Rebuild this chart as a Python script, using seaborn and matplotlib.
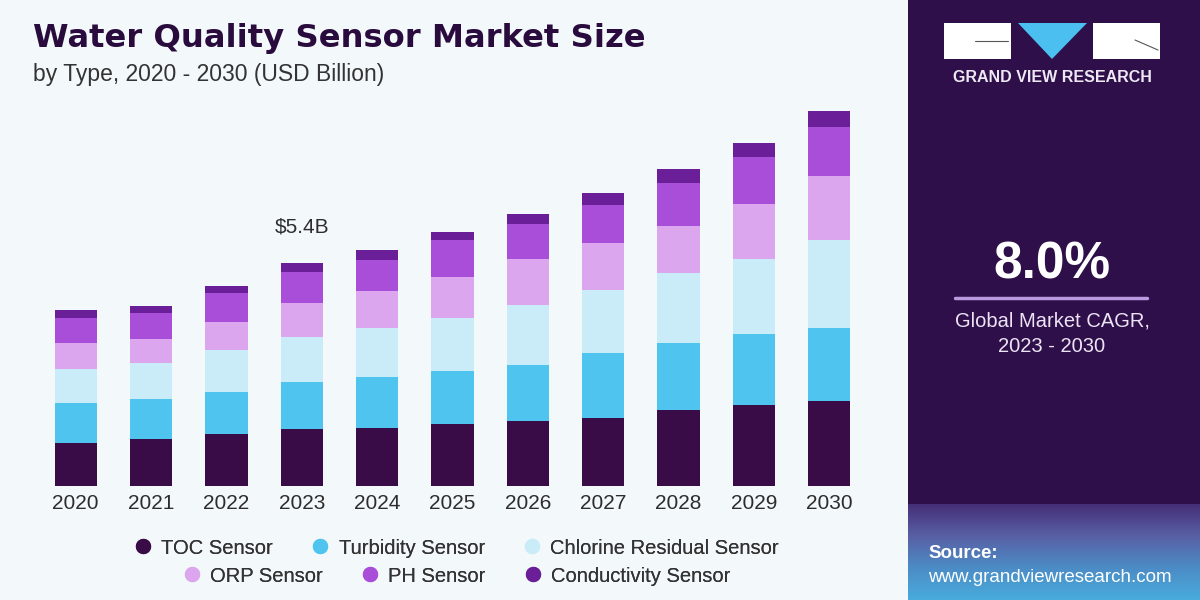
import numpy as np
import pandas as pd
import matplotlib
matplotlib.use("Agg")
import matplotlib.pyplot as plt
import seaborn as sns
from matplotlib.patches import Rectangle, Polygon
from matplotlib.lines import Line2D
from matplotlib.colors import LinearSegmentedColormap

# ---------------- data ----------------
years = [str(y) for y in range(2020, 2031)]
toc = [1.05, 1.14, 1.27, 1.39, 1.41, 1.51, 1.58, 1.65, 1.85, 1.95, 2.07]
turbidity = [0.95, 0.97, 1.00, 1.12, 1.22, 1.27, 1.34, 1.56, 1.61, 1.73, 1.75]
chlorine = [0.83, 0.88, 1.02, 1.09, 1.19, 1.29, 1.46, 1.53, 1.70, 1.82, 2.14]
orp = [0.63, 0.58, 0.68, 0.83, 0.90, 1.00, 1.12, 1.14, 1.14, 1.34, 1.56]
ph = [0.61, 0.61, 0.71, 0.75, 0.75, 0.90, 0.85, 0.92, 1.05, 1.12, 1.17]
conductivity = [0.19, 0.19, 0.17, 0.22, 0.24, 0.19, 0.24, 0.29, 0.34, 0.36, 0.39]
series_names = ["TOC Sensor", "Turbidity Sensor", "Chlorine Residual Sensor",
                "ORP Sensor", "PH Sensor", "Conductivity Sensor"]
colors = ["#3a0c47", "#4fc4ee", "#c9ecf8", "#dba6ee", "#a94ed9", "#6a1e98"]
annot_year = "2023"
annot_text = "$5.4B"
title = "Water Quality Sensor Market Size"
subtitle = "by Type, 2020 - 2030 (USD Billion)"
cagr_value = "8.0%"
cagr_label = "Global Market CAGR,"
cagr_period = "2023 - 2030"

# ---------------- style ----------------
sns.set_theme(style="white")
plt.rcParams['font.family'] = ['Liberation Sans', 'DejaVu Sans']

BG = "#f3f8fa"
PANEL = "#2e0f49"

fig = plt.figure(figsize=(12, 6), dpi=100, facecolor=BG)

# ---------------- chart ----------------
ax = fig.add_axes([38/1200, 1-486/600, 829/1200, 386/600])
ax.set_facecolor(BG)

df = pd.DataFrame({"year": years, "TOC Sensor": toc, "Turbidity Sensor": turbidity,
                   "Chlorine Residual Sensor": chlorine, "ORP Sensor": orp,
                   "PH Sensor": ph, "Conductivity Sensor": conductivity})
cum = df[series_names].cumsum(axis=1)

for i in reversed(range(len(series_names))):
    sns.barplot(x=df["year"], y=cum[series_names[i]], order=years, color=colors[i],
                width=0.56, saturation=1, linewidth=0, ax=ax)

ax.set_xlim(-0.5, 10.5)
ax.set_ylim(0, 9.35)
for s in ax.spines.values():
    s.set_visible(False)
ax.set_yticks([])
ax.set_xlabel("")
ax.set_ylabel("")
ax.tick_params(axis="x", length=0, pad=6, labelsize=15, labelcolor="#2d2d2d")

idx = years.index(annot_year)
total = cum[series_names[-1]].iloc[idx]
ax.annotate(annot_text, xy=(idx, total), xytext=(0, 19), textcoords="offset points",
            ha="center", va="bottom", fontsize=15, color="#2d2d2d")

# title
fig.text(33/1200, 1-39/600, title, fontsize=23.2, fontweight="bold", color="#2a0b3e",
         va="center", ha="left", family=["DejaVu Sans"])
fig.text(33/1200, 1-75/600, subtitle, fontsize=16.5, color="#333333", va="center", ha="left")

# legend (two centered rows)
handles = [Line2D([0], [0], marker="o", linestyle="none", markersize=10,
                  markerfacecolor=c, markeredgecolor=c) for c in colors]
for row, yy in enumerate([548, 576]):
    hs = handles[row*3:row*3+3]
    ls = series_names[row*3:row*3+3]
    lg = fig.legend(hs, ls, loc="center", bbox_to_anchor=(456/1200, 1-yy/600), ncol=3,
                    frameon=False, fontsize=14.5, handlelength=1.0, handletextpad=0.4,
                    columnspacing=1.85, borderpad=0, borderaxespad=0)
    for t in lg.get_texts():
        t.set_color("#333333")
    fig.add_artist(lg)

# ---------------- right panel ----------------
fig.add_artist(Rectangle((908/1200, 0), 1-908/1200, 1, transform=fig.transFigure,
                         facecolor=PANEL, edgecolor="none", zorder=0))

gax = fig.add_axes([908/1200, 0, 1-908/1200, 96/600])
cmap = LinearSegmentedColormap.from_list("g", ["#452f78", "#5860a4", "#4c8cc6", "#48acdc"])
grad = np.linspace(0, 1, 200).reshape(-1, 1)
gax.imshow(grad, aspect="auto", cmap=cmap, extent=[0, 1, 0, 1], origin="upper")
gax.set_axis_off()

# logo
fig.add_artist(Rectangle((944/1200, 1-59/600), 67/1200, 36/600, transform=fig.transFigure,
                         facecolor="white", edgecolor="none"))
fig.add_artist(Rectangle((1093/1200, 1-59/600), 67/1200, 36/600, transform=fig.transFigure,
                         facecolor="white", edgecolor="none"))
fig.add_artist(Polygon([(1018/1200, 1-23/600), (1087/1200, 1-23/600), (1052/1200, 1-59/600)],
                       closed=True, transform=fig.transFigure, facecolor="#4bc0f0",
                       edgecolor="none"))
fig.add_artist(Line2D([975/1200, 1008/1200], [1-41/600, 1-41/600], transform=fig.transFigure,
                      color="#555555", lw=0.8))
fig.add_artist(Line2D([1135/1200, 1158/1200], [1-40/600, 1-50/600], transform=fig.transFigure,
                      color="#555555", lw=0.8))
fig.text(1052/1200, 1-78/600, "GRAND VIEW RESEARCH", fontsize=11.5, fontweight="bold",
         color="#eee8f4", ha="center", va="center")

# CAGR
fig.text(1052/1200, 1-265/600, cagr_value, fontsize=37, fontweight="bold", color="white",
         ha="center", va="center")
fig.add_artist(Line2D([955/1200, 1147/1200], [1-298/600, 1-298/600], transform=fig.transFigure,
                      color="#b99ae0", lw=2.5))
fig.text(1052/1200, 1-321/600, cagr_label, fontsize=14.5, color="#ece4f4",
         ha="center", va="center")
fig.text(1052/1200, 1-346/600, cagr_period, fontsize=14.5, color="#ece4f4",
         ha="center", va="center")

# source
fig.text(928/1200, 1-553/600, "Source:", fontsize=13.5, fontweight="bold", color="white",
         ha="left", va="center")
fig.text(928/1200, 1-577/600, "www.grandviewresearch.com", fontsize=13.5, color="white",
         ha="left", va="center")

fig.savefig("out.png", dpi=100, facecolor=BG)
